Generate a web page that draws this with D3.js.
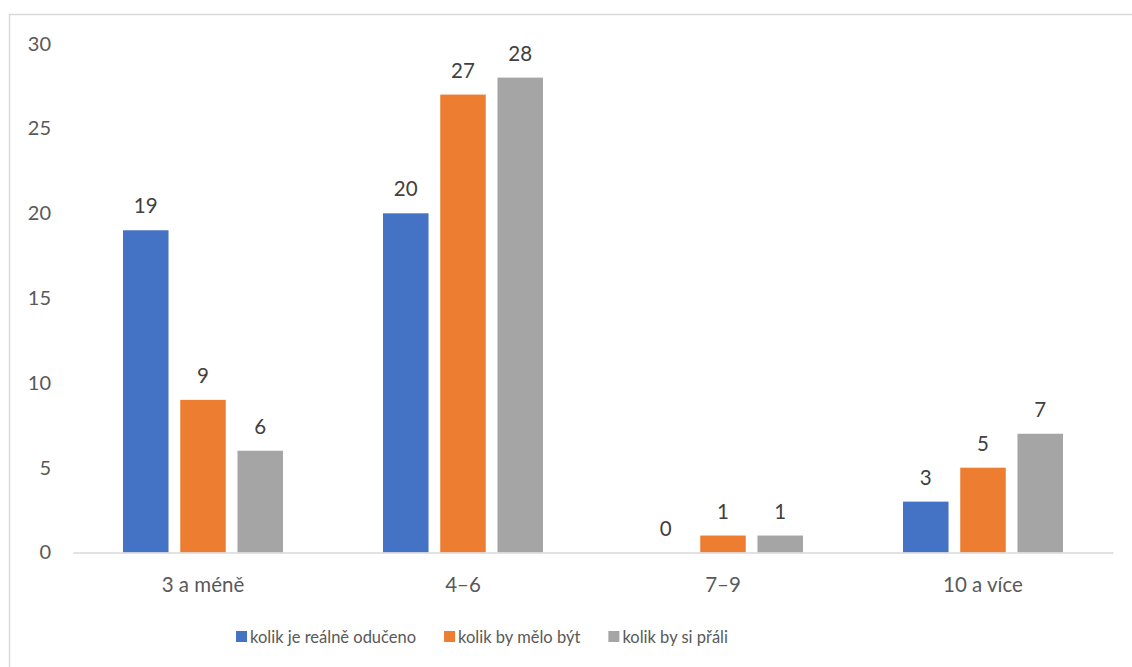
<!DOCTYPE html>
<html>
<head>
<meta charset="utf-8">
<script src="https://cdn.jsdelivr.net/npm/d3@7/dist/d3.min.js"></script>
<style>
  html, body { margin: 0; padding: 0; background: #fff; }
  svg { display: block; font-family: Lato, "Open Sans", sans-serif; }
</style>
</head>
<body>
<svg id="chart" width="1132" height="667"></svg>
<script>
// Category labels on the x axis
const categories = ["3 a méně", "4–6", "7–9", "10 a více"];
// Series names shown in the legend
const seriesNames = ["kolik je reálně odučeno", "kolik by mělo být", "kolik by si přáli"];
// Values per series, in category order
const realne = [19, 20, 0, 3];
const melo = [9, 27, 1, 5];
const prali = [6, 28, 1, 7];
// Y axis ticks
const yTicks = [0, 5, 10, 15, 20, 25, 30];

const seriesValues = [realne, melo, prali];
const colors = ["#4472C4", "#ED7D31", "#A5A5A5"];

const svg = d3.select("#chart");
const W = 1132, H = 667;

// Chart frame (extends past the visible area on the right and bottom)
svg.append("rect")
  .attr("x", 9.5).attr("y", 14.5)
  .attr("width", W + 20).attr("height", H + 20)
  .attr("fill", "#fff")
  .attr("stroke", "#D9D9D9").attr("stroke-width", 1.5);

const plot = { left: 73, right: 1113, top: 43.7, bottom: 552.5 };

const x = d3.scaleBand().domain(categories).range([plot.left, plot.right]).padding(0);
const groupHalf = 80;
const xs = d3.scaleBand().domain(d3.range(seriesNames.length))
  .range([0, groupHalf * 2]).paddingInner(0.205).paddingOuter(0);
const y = d3.scaleLinear().domain([0, 30]).range([plot.bottom, plot.top]);

// Y tick labels (no gridlines)
const yAxis = d3.axisLeft(y).tickValues(yTicks).tickSize(0).tickPadding(0);
const yg = svg.append("g").attr("transform", "translate(51,0)").call(yAxis);
yg.select(".domain").remove();
yg.selectAll("text")
  .attr("fill", "#595959").style("font-size", "20px")
  .style("font-family", "Lato, 'Open Sans', sans-serif");

// Bars with value labels
const groups = svg.append("g").selectAll("g")
  .data(categories).join("g")
  .attr("transform", d => `translate(${x(d) + x.bandwidth() / 2 - groupHalf},0)`);

groups.each(function(cat, ci) {
  const g = d3.select(this);
  seriesValues.forEach((vals, si) => {
    const v = vals[ci];
    g.append("rect")
      .attr("x", xs(si))
      .attr("width", xs.bandwidth())
      .attr("y", y(v))
      .attr("height", y(0) - y(v))
      .attr("fill", colors[si]);
    g.append("text")
      .attr("x", xs(si) + xs.bandwidth() / 2)
      .attr("y", y(v) - 17)
      .attr("text-anchor", "middle")
      .attr("fill", "#404040")
      .style("font-size", "20.5px")
      .text(v);
  });
});

// X axis baseline and category labels
const xAxis = d3.axisBottom(x).tickSize(0).tickPadding(0);
const xg = svg.append("g").attr("transform", `translate(0,${plot.bottom})`).call(xAxis);
xg.select(".domain").attr("stroke", "#D9D9D9").attr("stroke-width", 1.5);
xg.selectAll("text")
  .attr("dy", null).attr("y", 39.5)
  .attr("fill", "#595959").style("font-size", "20.5px")
  .style("font-family", "Lato, 'Open Sans', sans-serif");

// Legend
const legend = svg.append("g");
const items = legend.selectAll("g").data(seriesNames).join("g");
items.append("rect")
  .attr("width", 11).attr("height", 11).attr("y", 631)
  .attr("fill", (d, i) => colors[i]);
items.append("text")
  .attr("x", 14).attr("y", 643)
  .attr("fill", "#595959").style("font-size", "16.5px")
  .text(d => d);
const gap = 28;
const widths = [];
items.each(function() { widths.push(14 + d3.select(this).select("text").node().getComputedTextLength()); });
const total = d3.sum(widths) + gap * (widths.length - 1);
let start = 482 - total / 2;
items.attr("transform", (d, i) => {
  const t = `translate(${start},0)`;
  start += widths[i] + gap;
  return t;
});
</script>
</body>
</html>
